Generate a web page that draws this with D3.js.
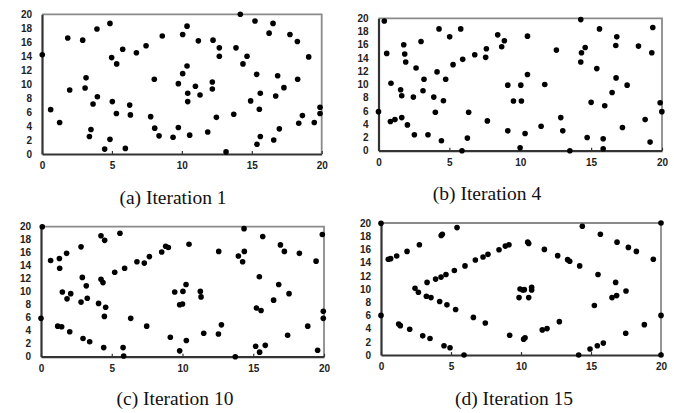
<!DOCTYPE html>
<html>
<head>
<meta charset="utf-8">
<script src="https://cdn.jsdelivr.net/npm/d3@7"></script>
<style>
  html, body { margin: 0; padding: 0; background: #fff; }
  svg { display: block; }
  .tick text { font-family: "Liberation Sans", Arial, sans-serif; font-weight: bold; font-size: 10px; fill: #222; }
  .caption { font-family: "Liberation Serif", "Times New Roman", serif; font-size: 19.5px; fill: #111; }
</style>
</head>
<body>
<svg id="chart" width="674" height="413"></svg>
<script>
// ---- data ----
const xTicks = [0, 5, 10, 15, 20];
const yTicks = [0, 2, 4, 6, 8, 10, 12, 14, 16, 18, 20];
const captions = ["(a) Iteration 1", "(b) Iteration 4", "(c) Iteration 10", "(d) Iteration 15"];

const iter1 = [[4.86,18.7],[3.93,17.9],[1.84,16.6],[2.91,16.3],[0.02,14.2],[5.77,15.0],[4.98,13.8],[5.34,12.9],[6.75,14.5],[7.44,15.5],[8.6,16.9],[3.15,10.9],[3.08,9.45],[1.98,9.16],[8.03,10.7],[9.75,10.07],[3.96,8.2],[3.65,7.16],[5.03,7.5],[6.27,7.0],[5.32,5.8],[6.32,5.6],[0.62,6.35],[1.26,4.5],[7.77,5.35],[3.5,3.5],[3.39,2.5],[8.06,3.7],[8.37,2.6],[9.37,2.4],[9.75,3.8],[4.86,2.1],[4.48,0.7],[5.96,0.8],
[14.18,20.0],[15.23,19.05],[16.52,18.7],[16.24,17.3],[17.73,17.1],[18.26,16.1],[19.07,13.9],[10.37,18.3],[10.06,17.1],[11.18,16.2],[12.23,16.3],[12.68,15.2],[12.68,14.0],[13.87,15.2],[14.66,14.0],[14.37,12.9],[10.37,12.6],[10.06,11.5],[10.97,9.7],[10.42,8.7],[11.3,8.45],[10.42,7.5],[12.18,10.3],[12.18,9.3],[15.35,11.4],[16.85,11.2],[18.28,10.7],[17.3,9.5],[15.61,8.7],[16.71,8.3],[14.92,7.6],[15.54,6.4],[19.88,6.7],[19.88,5.8],[18.62,5.5],[18.36,4.4],[19.47,4.5],[16.97,3.6],[13.71,5.7],[12.47,5.25],[11.85,3.15],[10.56,2.7],[15.61,2.5],[15.37,1.4],[16.57,2.0],[13.16,0.3]];

const iter4 = [[0.41,19.6],[4.27,18.4],[5.8,18.4],[5.02,17.2],[3.0,16.5],[1.78,16.0],[0.58,14.7],[1.85,14.6],[1.92,13.4],[2.65,12.5],[4.13,11.9],[5.26,13.0],[5.94,13.8],[6.79,14.5],[7.56,14.1],[7.61,15.4],[8.41,17.5],[8.88,16.6],[8.69,15.7],[3.21,10.8],[4.74,10.8],[0.88,10.2],[1.56,9.2],[1.64,8.3],[2.46,8.1],[3.14,9.06],[3.9,8.1],[4.58,7.55],[9.12,9.9],[9.52,7.5],[0,5.9],[4.01,5.8],[6.36,5.8],[0.84,4.4],[1.16,4.7],[1.64,5.0],[2.04,3.9],[2.53,2.4],[3.49,2.4],[4.44,1.5],[6.27,1.9],[7.68,4.5],[9.12,3.0],[5.89,0.0],
[14.27,19.8],[15.59,18.4],[19.35,18.6],[16.81,17.2],[16.74,15.9],[18.34,15.8],[19.28,14.8],[10.51,17.3],[12.55,15.2],[14.58,15.6],[14.32,14.8],[14.27,13.4],[15.4,12.4],[10.51,11.5],[10.04,9.9],[11.73,10.0],[16.76,11.0],[17.54,9.9],[16.48,8.8],[10.08,7.5],[15.0,7.3],[15.96,6.8],[19.87,7.25],[19.99,5.9],[12.86,5.0],[18.81,4.7],[11.47,3.7],[13.0,3.0],[17.21,3.5],[10.34,2.6],[14.72,2.0],[15.85,1.8],[19.16,1.3],[9.99,0.45],[13.5,0.0],[15.85,0.3]];

const iter10 = [[0.09,20.0],[4.24,18.6],[4.5,17.9],[5.58,19.0],[2.83,16.9],[1.81,15.9],[0.68,14.8],[1.3,15.1],[1.32,13.6],[2.92,12.2],[4.24,11.9],[4.38,11.4],[3.2,10.9],[5.21,13.0],[5.91,13.6],[6.78,14.6],[7.3,14.4],[7.66,15.4],[8.53,16.1],[8.81,17.0],[9.0,16.8],[1.51,9.95],[2.1,9.7],[1.84,8.9],[2.83,8.4],[3.27,9.0],[4.07,8.2],[4.57,7.6],[4.48,6.2],[6.34,5.9],[9.45,9.95],[9.8,8.0],[0,5.9],[1.18,4.7],[1.46,4.6],[2.03,3.85],[2.97,2.8],[3.44,2.3],[4.43,1.4],[5.8,1.4],[5.84,0.1],[7.47,4.7],[9.14,3.0],[9.8,0.9],
[14.35,19.7],[15.67,18.5],[19.88,18.8],[10.46,17.3],[16.92,17.2],[17.2,16.2],[18.26,15.9],[19.44,14.7],[12.56,16.2],[13.95,15.5],[14.37,16.2],[14.25,14.6],[15.43,12.3],[16.8,11.1],[17.53,9.7],[16.44,8.7],[10.25,11.1],[10.03,10.05],[11.26,10.05],[11.31,9.2],[10.0,8.1],[15.22,7.5],[15.55,7.1],[19.95,7.0],[19.95,5.9],[18.85,4.7],[12.75,4.9],[12.54,3.5],[11.5,3.6],[10.27,2.5],[17.43,3.3],[15.17,1.6],[15.85,1.75],[15.45,0.7],[13.73,0.0],[19.55,1.0]];

const iter15 = [[0,19.95],[4.38,18.3],[4.3,18.1],[5.43,19.3],[2.74,16.7],[1.86,15.7],[1.12,15.0],[0.69,14.6],[0.52,14.5],[3.29,11.0],[3.9,11.5],[4.29,11.8],[4.64,12.2],[5.24,12.8],[6.0,13.5],[6.74,14.4],[7.29,14.85],[7.64,15.25],[8.43,15.95],[8.88,16.5],[9.14,16.7],[2.43,10.1],[2.67,9.5],[3.24,8.9],[3.57,8.7],[4.19,8.1],[4.71,7.6],[5.33,6.9],[6.6,5.7],[7.45,4.85],[9.19,3.0],[0,6.0],[1.26,4.7],[1.38,4.45],[2.05,3.9],[2.98,2.9],[3.5,2.5],[4.5,1.4],[4.93,1.1],[5.93,0.0],
[14.38,19.5],[20,20],[15.67,18.3],[16.86,17.1],[17.67,16.3],[18.24,15.7],[19.45,14.5],[10.48,17.1],[10.55,16.9],[11.67,16.0],[12.62,15.05],[13.33,14.45],[13.48,14.2],[14.19,13.5],[15.5,12.2],[16.76,11.0],[17.5,9.7],[16.83,9.0],[16.5,8.7],[15.24,7.5],[9.93,10.0],[10.12,9.85],[10.24,9.9],[10.76,10.25],[10.76,9.85],[9.86,8.7],[10.55,8.7],[10.19,2.4],[10.29,2.6],[11.52,3.8],[11.86,4.0],[12.74,5.05],[17.48,3.3],[18.81,4.6],[20,6.0],[14.93,0.9],[15.45,1.4],[15.88,1.8],[14.12,0.0],[20,0]];

const series = [iter1, iter4, iter10, iter15];

// ---- layout ----
const panels = [
  {l: 42,    r: 321.7, t: 14.3,  b: 154,   cx: 173, cy: 204},
  {l: 378.5, r: 662,   t: 18.3,  b: 150.7, cx: 487, cy: 200},
  {l: 41,    r: 324,   t: 226.7, b: 356.7, cx: 175, cy: 405},
  {l: 381,   r: 661,   t: 223,   b: 355,   cx: 514, cy: 405}
];

const svg = d3.select("#chart");

panels.forEach((p, i) => {
  const x = d3.scaleLinear().domain([0, 20]).range([p.l, p.r]);
  const y = d3.scaleLinear().domain([0, 20]).range([p.b, p.t]);
  const g = svg.append("g");

  // top/right frame (lighter)
  g.append("path")
    .attr("d", `M${x(0)},${y(20)}H${x(20)}V${y(0)}`)
    .attr("fill", "none").attr("stroke", "#8a8a8a").attr("stroke-width", 1.8);

  // x axis
  const xa = g.append("g").attr("transform", `translate(0,${y(0)})`)
    .call(d3.axisBottom(x).tickValues(xTicks).tickSizeInner(-3).tickSizeOuter(0).tickPadding(8));
  xa.select(".domain").attr("stroke", "#333").attr("stroke-width", 2.2);
  xa.selectAll(".tick line").attr("stroke", "#333").attr("stroke-width", 1.2);

  // y axis
  const ya = g.append("g").attr("transform", `translate(${x(0)},0)`)
    .call(d3.axisLeft(y).tickValues(yTicks).tickSize(0).tickPadding(10));
  ya.select(".domain").attr("stroke", "#333").attr("stroke-width", 2.2);

  // points
  g.selectAll("circle.pt").data(series[i]).enter().append("circle")
    .attr("class", "pt")
    .attr("cx", d => x(d[0]))
    .attr("cy", d => y(d[1]))
    .attr("r", 2.8)
    .attr("fill", "#000");

  // caption
  svg.append("text").attr("class", "caption")
    .attr("x", p.cx).attr("y", p.cy)
    .attr("text-anchor", "middle")
    .text(captions[i]);
});
</script>
</body>
</html>
